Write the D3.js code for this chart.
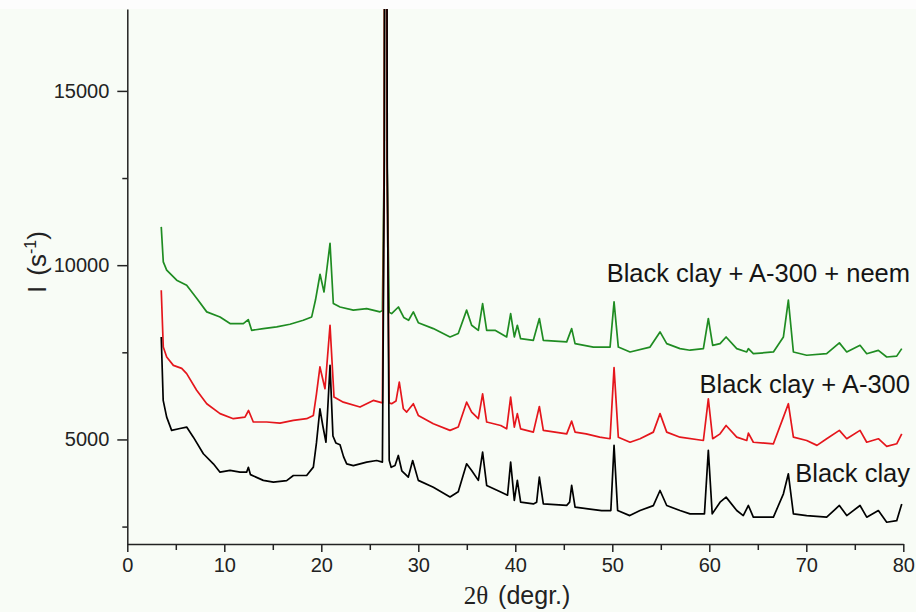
<!DOCTYPE html>
<html>
<head>
<meta charset="utf-8">
<script src="https://cdn.jsdelivr.net/npm/d3@7"></script>
<style>
  html, body { margin: 0; padding: 0; background: #f8fcf6; }
  svg { display: block; }
  .tickText { font-family: "Liberation Sans", Arial, sans-serif; font-size: 20px; fill: #222; }
  .seriesLabel { font-family: "Liberation Sans", Arial, sans-serif; font-size: 25.5px; fill: #151515; }
</style>
</head>
<body>
<div id="chart"></div>
<script>
// 2theta (deg) vs intensity (1/s)
const blackClay = [
  [3.5, 7940], [3.7, 6120], [4.06, 5640], [4.57, 5260], [5.43, 5315], [6.12, 5355], [6.81, 5065],
  [7.84, 4590], [8.87, 4300], [9.56, 4060], [10.59, 4110], [11.62, 4060], [12.3, 4060], [12.48, 4200],
  [12.7, 3990], [14.02, 3825], [15.06, 3775], [16.43, 3820], [17.12, 3965], [18.49, 3965], [19.18, 4205],
  [19.5, 4900], [19.86, 5880], [20.15, 5400], [20.48, 4920], [20.9, 7125], [21.2, 5100], [21.5, 4900],
  [21.93, 4850], [22.3, 4500], [22.62, 4300], [23.3, 4250], [24.68, 4350], [25.71, 4395], [26.3, 4350],
  [26.5, 13000], [26.65, 40000], [26.8, 13000], [27.0, 4400], [27.2, 4200], [27.6, 4250], [27.94, 4540], [28.3, 4100],
  [28.97, 3920], [29.42, 4395], [30.0, 3825], [31.55, 3630], [33.27, 3350], [34.12, 3500], [34.98, 4300],
  [35.5, 4110], [36.19, 3825], [36.63, 4635], [37.05, 3680], [38.5, 3490], [39.2, 3400], [39.52, 4350],
  [39.9, 3250], [40.21, 3825], [40.55, 3200], [41.86, 3150], [42.2, 3200], [42.48, 3920], [42.89, 3150],
  [45.3, 3110], [45.6, 3200], [45.81, 3680], [46.16, 3060], [47.5, 3010], [48.9, 2960], [49.85, 2960],
  [50.18, 4830], [50.55, 2960], [51.8, 2815], [52.86, 2960], [54.23, 3100], [54.92, 3535], [55.61, 3105],
  [56.98, 2960], [58.01, 2865], [59.5, 2865], [59.9, 4685], [60.3, 2865], [61.11, 3200], [61.73, 3345],
  [62.83, 2960], [63.5, 2815], [64.03, 3105], [64.54, 2770], [66.61, 2770], [67.64, 3440], [68.15, 4015],
  [68.67, 2865], [70.04, 2815], [72.1, 2770], [73.41, 3105], [74.17, 2815], [75.54, 3105], [76.23, 2770],
  [77.43, 2960], [78.29, 2625], [79.32, 2670], [79.84, 3150]
];

const clayA300 = [
  [3.5, 9280], [3.71, 7650], [4.06, 7365], [4.75, 7125], [5.61, 7040], [6.12, 6890], [7.15, 6410],
  [8.19, 6025], [9.56, 5740], [10.93, 5595], [12.13, 5640], [12.5, 5830], [12.99, 5500], [14.37, 5500],
  [15.74, 5470], [17.12, 5545], [18.49, 5595], [19.18, 5690], [19.5, 6300], [19.86, 7080], [20.38, 6455],
  [20.9, 8275], [21.31, 6215], [22.27, 6070], [23.99, 5930], [25.36, 6120], [26.3, 6050],
  [26.48, 13000], [26.63, 40000], [26.78, 13000], [27.0, 6050], [27.25, 6025], [27.7, 6100], [28.04, 6645], [28.46, 5880], [28.8, 5785],
  [29.49, 6025], [30.0, 5690], [31.55, 5450], [33.27, 5260], [34.12, 5355], [34.98, 6070], [35.5, 5785],
  [36.19, 5595], [36.63, 6310], [37.05, 5500], [38.5, 5400], [39.11, 5305], [39.52, 6215], [39.9, 5355],
  [40.21, 5740], [40.55, 5305], [41.86, 5210], [42.48, 5945], [42.89, 5260], [45.3, 5160], [45.81, 5525],
  [46.16, 5210], [47.3, 5160], [48.7, 5065], [49.77, 5020], [50.18, 7060], [50.62, 5065], [51.83, 4920],
  [52.86, 5020], [54.23, 5210], [54.92, 5740], [55.61, 5210], [56.98, 5065], [59.39, 4970], [59.9, 6165],
  [60.35, 5020], [61.11, 5160], [61.73, 5400], [62.83, 5065], [63.86, 4970], [64.03, 5180], [64.54, 4920],
  [66.61, 4875], [67.64, 5640], [68.15, 6025], [68.67, 5065], [70.04, 4970], [71.1, 4830], [72.1, 5020],
  [73.41, 5260], [74.17, 5020], [75.54, 5260], [76.23, 4920], [77.43, 5020], [78.29, 4800], [79.32, 4875],
  [79.84, 5160]
];

const clayA300Neem = [
  [3.5, 11100], [3.71, 10096], [4.06, 9857], [5.09, 9570], [6.12, 9425], [7.15, 9050], [8.19, 8660],
  [9.56, 8515], [10.59, 8325], [11.96, 8325], [12.47, 8440], [12.82, 8130], [14.02, 8180], [15.4, 8230],
  [16.77, 8305], [18.14, 8420], [19.01, 8515], [19.4, 9000], [19.87, 9740], [20.28, 9230], [20.9, 10625],
  [21.24, 8900], [21.93, 8800], [23.3, 8710], [24.68, 8755], [26.05, 8660], [26.3, 8700], [26.48, 13000],
  [26.63, 40000], [26.78, 13000], [27.0, 8650], [27.25, 8610], [27.95, 8800], [28.5, 8500], [29.0, 8420], [29.49, 8660], [30.0, 8350],
  [31.55, 8180], [33.27, 7940], [34.12, 8040], [34.98, 8710], [35.5, 8275], [36.19, 8130], [36.63, 8900],
  [37.05, 8130], [37.91, 8130], [39.11, 7940], [39.52, 8610], [39.9, 7940], [40.21, 8275], [40.55, 7890],
  [41.86, 7845], [42.48, 8470], [42.89, 7845], [45.3, 7800], [45.81, 8180], [46.16, 7750], [48.05, 7650],
  [49.77, 7650], [50.18, 8945], [50.62, 7650], [51.83, 7510], [53.89, 7650], [54.92, 8085], [55.61, 7750],
  [56.98, 7605], [58.01, 7560], [59.39, 7605], [59.9, 8470], [60.35, 7700], [61.11, 7750], [61.73, 7940],
  [62.83, 7605], [63.86, 7510], [64.03, 7605], [64.54, 7460], [66.61, 7510], [67.64, 7940], [68.15, 8995],
  [68.67, 7510], [70.04, 7415], [72.1, 7460], [73.41, 7770], [74.17, 7510], [75.54, 7700], [76.23, 7460],
  [77.43, 7555], [78.29, 7365], [79.32, 7390], [79.84, 7605]
];

const seriesNames = ['Black clay + A-300 + neem', 'Black clay + A-300', 'Black clay'];
const seriesColors = ['#1f8c22', '#e5161c', '#000000'];
const xMajorTicks = [0, 10, 20, 30, 40, 50, 60, 70, 80];
const xMinorTicks = [5, 15, 25, 35, 45, 55, 65, 75];
const yMajorTicks = [5000, 10000, 15000];
const yMinorTicks = [2500, 7500, 12500];

const width = 916, height = 612;
const plot = {left: 127.3, right: 903.3, top: 9, bottom: 544};

const svg = d3.select('#chart').append('svg')
  .attr('width', width)
  .attr('height', height);

// whiter strip above the plot, as in the scan
svg.append('rect').attr('width', width).attr('height', plot.top).attr('fill', '#fdfdfd');

const x = d3.scaleLinear().domain([0, 80]).range([plot.left, plot.right]);
const y = d3.scaleLinear().domain([2000, 17350]).range([plot.bottom, plot.top]);

svg.append('clipPath').attr('id', 'plotClip')
  .append('rect')
  .attr('x', plot.left).attr('y', plot.top)
  .attr('width', plot.right - plot.left).attr('height', plot.bottom - plot.top);

const line = d3.line()
  .x(d => x(d[0]))
  .y(d => y(d[1]))
  .curve(d3.curveLinear);

const allSeries = [clayA300Neem, clayA300, blackClay];
const g = svg.append('g').attr('clip-path', 'url(#plotClip)');
allSeries.forEach((s, i) => {
  g.append('path')
    .datum(s)
    .attr('d', line)
    .attr('fill', 'none')
    .attr('stroke', seriesColors[i])
    .attr('stroke-width', 1.7)
    .attr('stroke-linejoin', 'round');
});

// axes
const axisColor = '#222';
function styleAxis(sel) {
  sel.select('.domain').attr('stroke', axisColor).attr('stroke-width', 1.5);
  sel.selectAll('.tick line').attr('stroke', axisColor).attr('stroke-width', 1.5);
  sel.selectAll('.tick text').attr('class', 'tickText').attr('fill', null);
}

const xMajor = svg.append('g')
  .attr('transform', `translate(0,${plot.bottom})`)
  .call(d3.axisBottom(x).tickValues(xMajorTicks).tickSize(8).tickSizeOuter(0).tickPadding(6));
styleAxis(xMajor);
const xMinor = svg.append('g')
  .attr('transform', `translate(0,${plot.bottom})`)
  .call(d3.axisBottom(x).tickValues(xMinorTicks).tickSize(6).tickFormat(''));
xMinor.select('.domain').remove();
styleAxis(xMinor);

const yMajor = svg.append('g')
  .attr('transform', `translate(${plot.left},0)`)
  .call(d3.axisLeft(y).tickValues(yMajorTicks).tickSize(10).tickSizeOuter(0).tickPadding(8).tickFormat(d3.format('d')));
styleAxis(yMajor);
const yMinor = svg.append('g')
  .attr('transform', `translate(${plot.left},0)`)
  .call(d3.axisLeft(y).tickValues(yMinorTicks).tickSize(5).tickFormat(''));
yMinor.select('.domain').remove();
styleAxis(yMinor);

// axis titles
const xTitle = svg.append('text')
  .attr('x', 517).attr('y', 604)
  .attr('text-anchor', 'middle')
  .style('font-family', '"Liberation Sans", Arial, sans-serif')
  .style('font-size', '25px')
  .attr('fill', '#222');
xTitle.append('tspan').style('font-family', '"Liberation Serif", "Times New Roman", serif').text('2θ');
xTitle.append('tspan').attr('dx', 10).text('(degr.)');

const yTitle = svg.append('text')
  .attr('transform', 'translate(46,262) rotate(-90)')
  .attr('text-anchor', 'middle')
  .style('font-family', '"Liberation Sans", Arial, sans-serif')
  .style('font-size', '26px')
  .attr('fill', '#222');
yTitle.append('tspan').text('I');
yTitle.append('tspan').attr('dx', 10).text('(s');
yTitle.append('tspan').attr('dy', -10).style('font-size', '16px').text('-1');
yTitle.append('tspan').attr('dy', 10).text(')');

// series labels
const labelBaselines = [282, 393, 482];
seriesNames.forEach((name, i) => {
  svg.append('text')
    .attr('class', 'seriesLabel')
    .attr('x', 910)
    .attr('y', labelBaselines[i])
    .attr('text-anchor', 'end')
    .text(name);
});
</script>
</body>
</html>
